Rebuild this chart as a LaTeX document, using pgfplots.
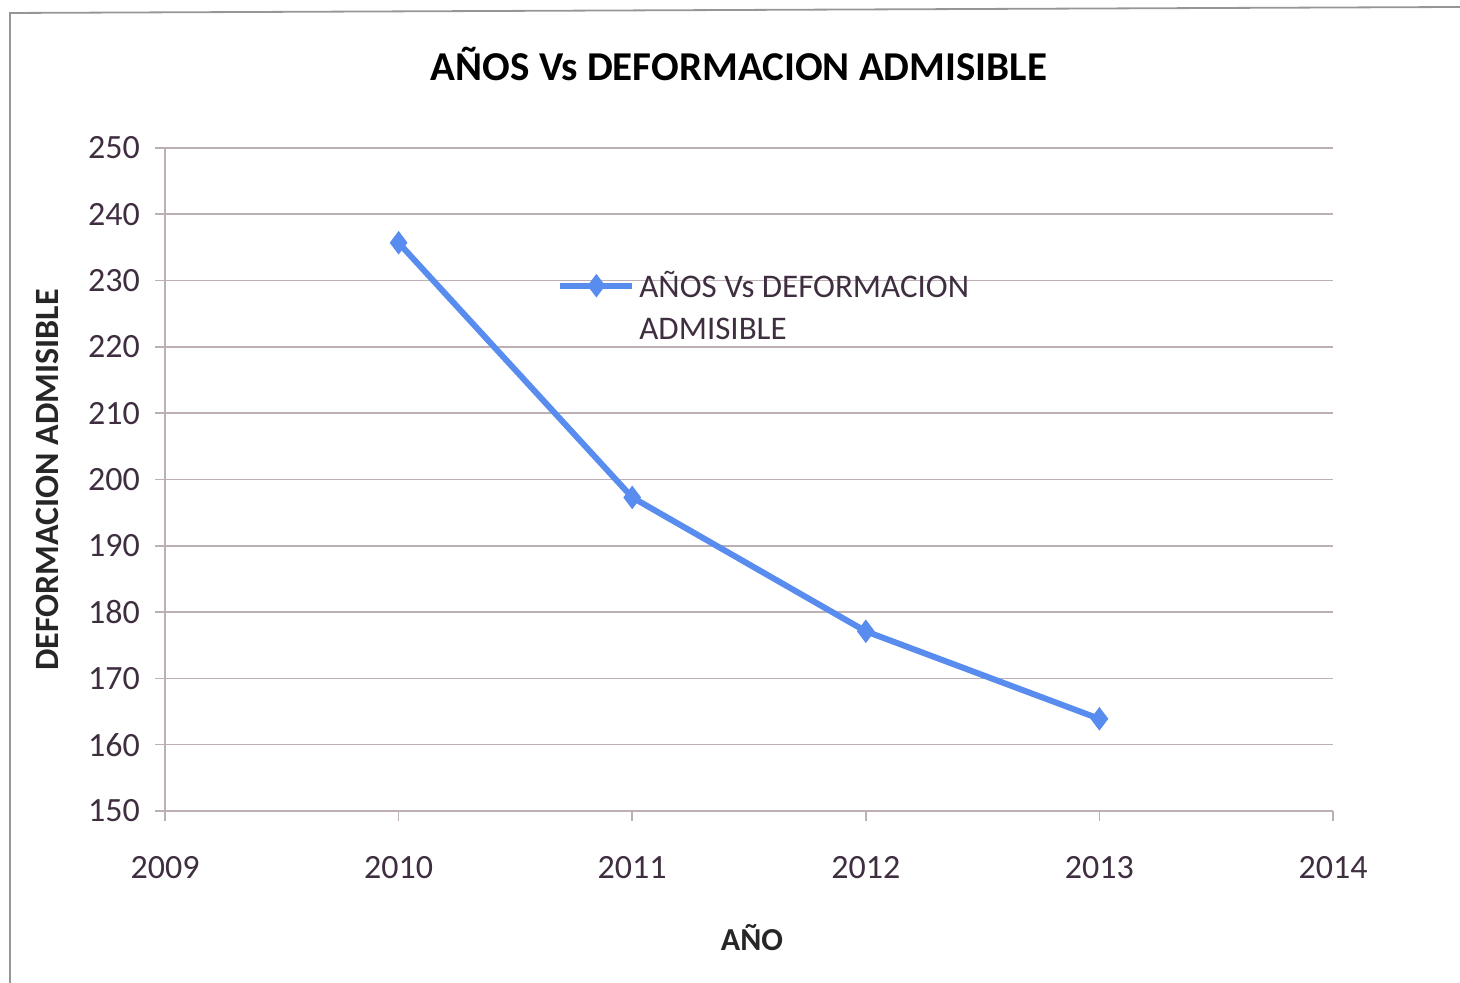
\documentclass[border=0pt]{standalone}
\usepackage{pgfplots}
\pgfplotsset{compat=1.18}
\usepackage{fontspec}
\setmainfont{Carlito}

\definecolor{serie}{RGB}{88,140,238}
\definecolor{rejilla}{RGB}{188,176,182}
\definecolor{marco}{RGB}{150,150,150}
\definecolor{etiq}{RGB}{62,46,64}

\begin{document}
\begin{tikzpicture}
\path[use as bounding box] (0,0) rectangle (730pt,491.5pt);
% borde del grafico (solo izquierda y arriba visibles)
\draw[marco, line width=0.9pt] (5pt,0pt) -- (5pt,485pt) -- (730pt,488pt);

\begin{axis}[
	at={(82.5pt,86pt)}, anchor=south west,
	scale only axis, width=584pt, height=331.5pt,
	xmin=2009, xmax=2014, ymin=150, ymax=250,
	xtick={2009,2010,...,2014}, ytick={150,160,...,250},
	axis x line=bottom, axis y line=left,
	axis line style={-, draw=rejilla, line width=0.8pt},
	tick align=outside, major tick length=5pt,
	tick style={draw=rejilla, line width=0.8pt},
	ymajorgrids, grid style={draw=rejilla, line width=0.8pt},
	/pgf/number format/1000 sep={},
	/pgf/number format/assume math mode=true,
	tick label style={font=\fontsize{17}{17}\selectfont, text=etiq},
	x tick label style={yshift=-14pt},
	y tick label style={xshift=-4pt},
	xlabel={AÑO},
	xlabel style={at={(axis description cs:0.5026,-0.1916)}, anchor=center,
		font=\bfseries\fontsize{16}{16}\selectfont, text=black!85},
	ylabel={DEFORMACION ADMISIBLE},
	ylabel style={at={(axis description cs:-0.101,0.499)}, anchor=center,
		font=\bfseries\fontsize{17}{17}\selectfont, text=black!85},
	legend style={at={(axis description cs:0.3356,0.821)}, anchor=north west,
		draw=none, fill=none, font=\fontsize{16.5}{21}\selectfont, text=etiq,
		row sep=0pt, inner sep=0pt},
	legend cell align=left,
	legend image code/.code={
		\draw[#1, mark repeat=2, mark phase=2]
		plot coordinates {(0pt,0pt) (18pt,0pt) (36pt,0pt)};},
	clip=false,
]
\addplot[color=serie, line width=3pt, mark=diamond*,
	mark options={solid, fill=serie, draw=serie, line width=0.5pt}, mark size=5.5pt]
	coordinates {
		(2010, 235.7)(2011, 197.3)(2012, 177.1)(2013, 163.9)
	};
\addlegendentry{\parbox[t]{190pt}{AÑOS Vs DEFORMACION\\ADMISIBLE}}
\end{axis}

\node[font=\bfseries\fontsize{20.5}{20.5}\selectfont, text=black] at (369.5pt,459.5pt)
	{AÑOS Vs DEFORMACION ADMISIBLE};
\end{tikzpicture}
\end{document}
